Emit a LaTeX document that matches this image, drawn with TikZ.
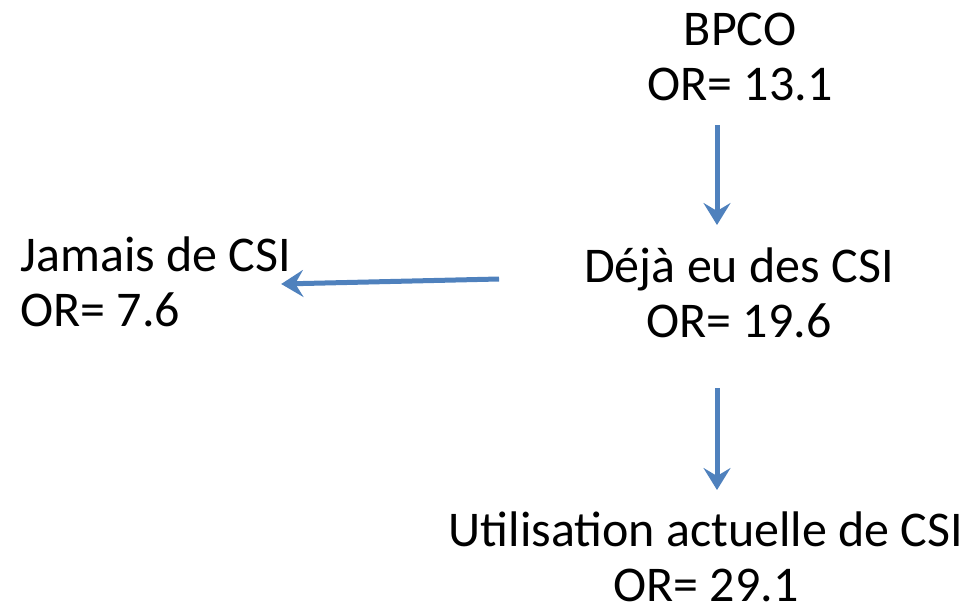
\documentclass[tikz,border=0pt]{standalone}
\usepackage{fontspec}
\setmainfont{Carlito}
\usetikzlibrary{arrows.meta,calc}
\definecolor{arrowblue}{RGB}{79,129,189}
\tikzset{
  lbl/.style={font=\fontsize{50}{55}\selectfont, inner sep=0pt, align=center, anchor=base},
  arr/.style={draw=arrowblue, line width=5pt, -{Stealth[length=22pt,width=27pt,inset=8pt]}}
}
\begin{document}
\begin{tikzpicture}[x=1pt,y=1pt]
\useasboundingbox (0,0) rectangle (974,-608);
\node[lbl] (bpco) at (740,-100) {BPCO\\OR= 13.1};
\node[lbl] (deja) at (739,-337) {Déjà eu des CSI\\OR= 19.6};
\node[lbl, align=left, anchor=base west] (jamais) at (20,-326) {Jamais de CSI\\OR= 7.6};
\node[lbl] (util) at (706,-601) {Utilisation actuelle de CSI\\OR= 29.1};
\draw[arr] ($(bpco.base -| 717,0)+(0,-25)$) -- ($(deja.base -| 717,0)+(0,112)$);
\draw[arr] ($(deja.base -| deja.west)+(-85,58)$) -- ($(jamais.base -| jamais.east)+(-10,42)$);
\draw[arr] ($(deja.base -| 717,0)+(0,-51)$) -- ($(util.base -| 717,0)+(0,111)$);
\end{tikzpicture}
\end{document}
